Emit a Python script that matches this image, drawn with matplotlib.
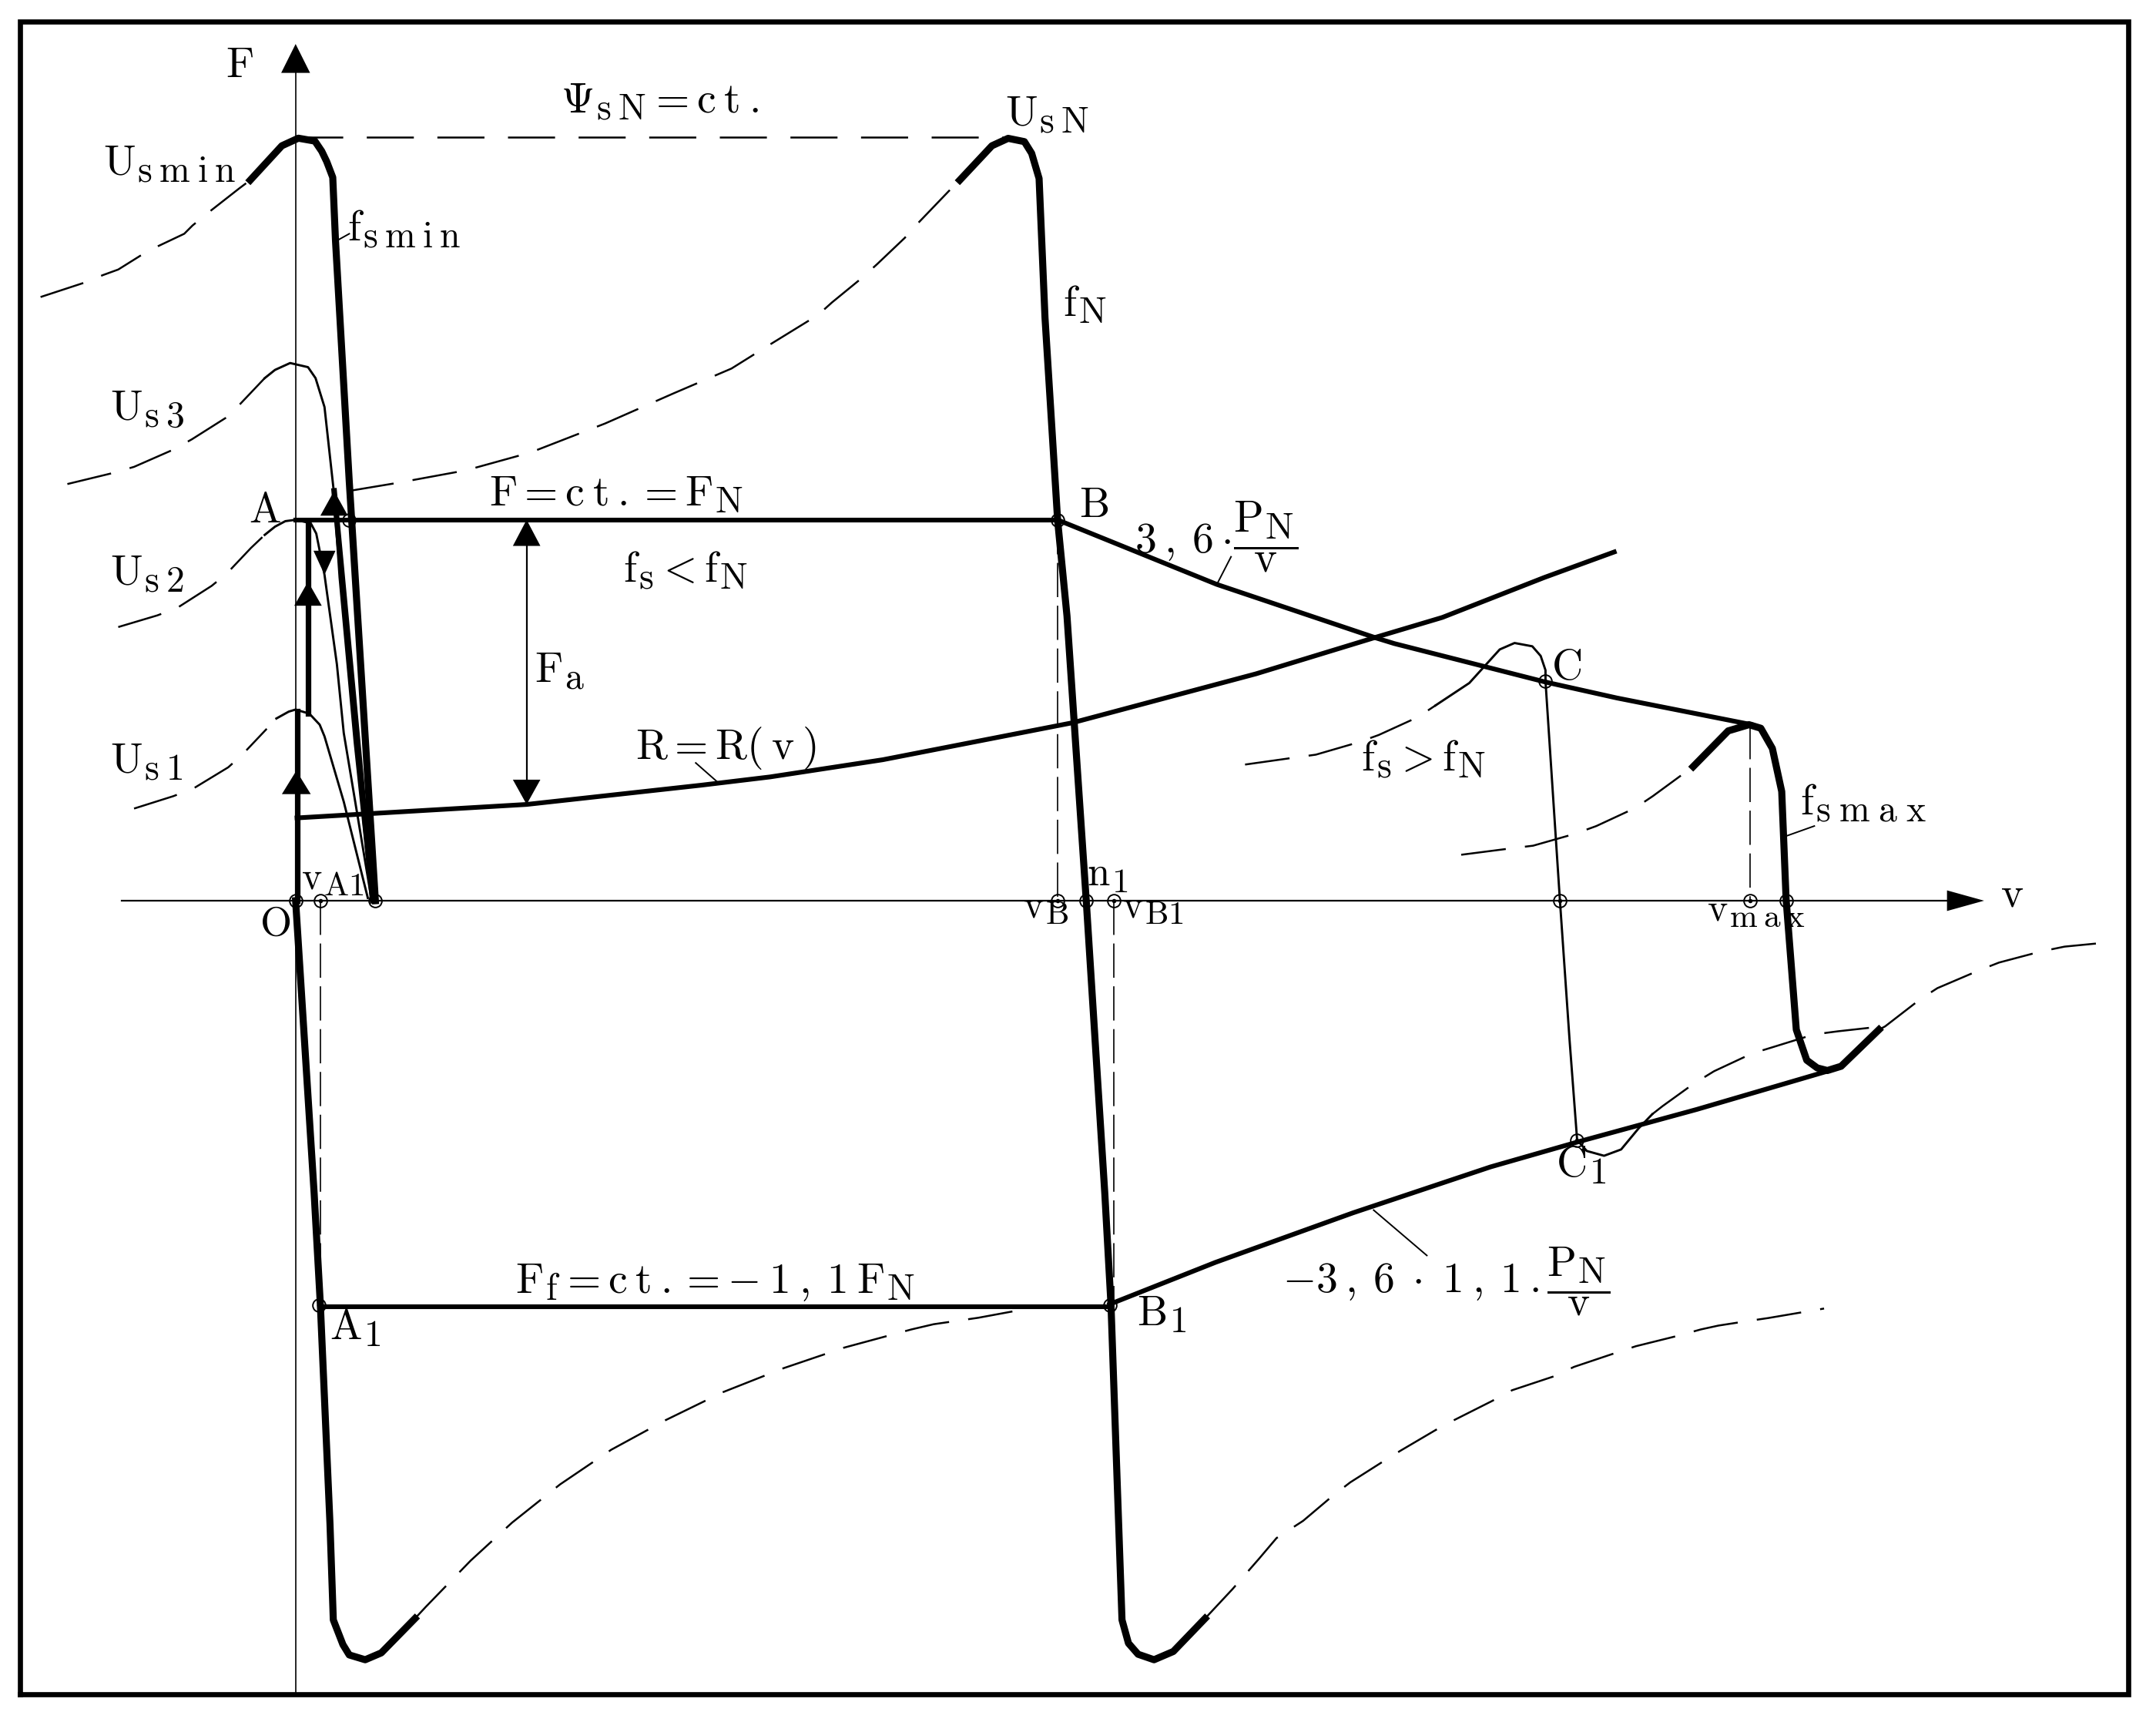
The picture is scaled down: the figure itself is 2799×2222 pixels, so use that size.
import numpy as np
import matplotlib
matplotlib.use("Agg")
import matplotlib.pyplot as plt

try:
    import matplotlib._mathtext as _mt
    _mt.SHRINK_FACTOR = 0.86
except Exception:
    pass

plt.rcParams['mathtext.fontset'] = 'cm'
plt.rcParams['lines.scale_dashes'] = False
plt.rcParams['lines.solid_joinstyle'] = 'round'
plt.rcParams['lines.dash_joinstyle'] = 'round'

# ---------------- data (v = speed units, F = force units) ----------------
psi_v = [0, 518]
psi_F = [555, 555]

usmin_v = [-33, -10, 2, 14, 19, 22.6, 27, 29, 39, 58]          # U_smin peak + f_smin
usmin_F = [524, 549, 554.5, 552.4, 545, 537.5, 526, 480, 305, 0]
usmin_dash_v = [-185.5, -155, -140, -129, -113, -100, -81, -75, -64, -41, -33]
usmin_dash_F = [439, 449, 455, 459, 469, 476, 485, 491, 500, 518, 524]

us3_dash_v = [-166, -133, -117.5, -89, -75.5, -51, -41, -22.5]
us3_dash_F = [303, 311, 315.5, 328, 335.5, 351, 360.5, 380]
us3_v = [-22.5, -15, -4, 9, 14.5, 21, 27.5, 32, 43, 55]
us3_F = [380, 386, 391, 388, 380, 359, 300, 235, 115, 2]

us2_dash_v = [-129, -100.5, -86, -61, -50, -32.5, -22.5]
us2_dash_F = [199, 207.5, 213, 229, 238, 256.5, 266]
us2_v = [-22.5, -15, -7.5, 0, 11, 15, 21, 30, 35, 55]
us2_F = [266, 272, 276, 277, 274.5, 267, 237, 172, 122, 2]

us1_dash_v = [-117.5, -89, -74.5, -49, -39, -21]
us1_dash_F = [67, 76, 81.5, 97, 106, 125]
us1_v = [-14, -5, 0, 10, 17.5, 21, 35, 52.5]
us1_F = [132.5, 137.5, 139, 136, 128, 119.5, 72, 2]

path1_v = [1, 1]
path1_F = [0, 138]
path2_v = [9, 9]
path2_F = [136, 275]
path3_v = [28, 56]
path3_F = [298, 0]

fconst_v = [0, 554]
fconst_F = [277, 277]

fn_v = [483, 506.4, 518.2, 530, 535.3, 540.7, 545, 554.2, 561, 575, 588.5, 593, 601,
        605.7, 612.7, 624.3, 638.3, 661.4]
fn_F = [524, 549, 554.4, 552, 543.5, 525.2, 424, 276.4, 207, 0, -213, -294, -523,
        -540, -548, -552, -546, -522]

usn_dash_v = [39, 75, 124, 171, 225, 275, 317, 341, 354, 380, 390, 412, 423, 443, 451, 475, 483]
usn_dash_F = [298, 304, 313, 326, 347, 369, 387, 402, 410, 426, 435, 453, 463, 482, 491, 516, 524]

low_left_v = [0, 13.5, 18, 25, 27.4, 34.4, 39, 50.6, 62.3, 86.8]
low_left_F = [0, -213.3, -294, -453.5, -523, -541, -548.5, -552, -547, -522]
low_left_dash_v = [86.8, 94.7, 127.3, 157.4, 192.3, 229.5, 269, 310.8, 354.8, 399, 447.8,
                   464, 496.5, 536]
low_left_dash_F = [-522, -513.5, -479.9, -452.3, -424.5, -399.3, -377.8, -357.4, -340,
                   -325, -311.8, -308, -303.3, -296]

low_right_dash_v = [661.4, 681.3, 700.6, 713.4, 732.7, 754, 767, 790.6, 803.5, 829, 842,
                    869.8, 884.7, 914.8, 929.8, 957.5, 974.7, 1006.9, 1021.9, 1034.7,
                    1054, 1071, 1111.6]
low_right_dash_F = [-522, -500.7, -478.6, -463.5, -451, -433, -423, -408, -400, -385, -378,
                    -364, -356, -346, -339, -329.7, -324, -316, -311.8, -309, -306,
                    -303.5, -296.6]

ff_v = [18, 593]
ff_F = [-295, -295]

neg_pv_v = [592, 669, 769, 869, 934, 1019, 1114]
neg_pv_F = [-293.5, -263, -227, -193.6, -175, -151.8, -124]

fsmax_v = [1016.4, 1041.9, 1057, 1065.6, 1074, 1080.8, 1084, 1091.4, 1099, 1106.6, 1114,
           1124, 1151.5]
fsmax_F = [97.5, 123.5, 128, 125.4, 110.7, 79.4, 0.8, -93.8, -116, -121.6, -123.5,
           -120.4, -93.8]
fsmax_dash_l_v = [847.7, 883.5, 900, 930.6, 946, 974, 987, 1011.3, 1016.4]
fsmax_dash_l_F = [33.4, 38, 40, 48.7, 54.3, 67.3, 76, 93.8, 97.5]
fsmax_dash_r_v = [1151.5, 1156, 1181.5, 1194, 1224, 1238.8, 1269, 1286.5, 1321.4]
fsmax_dash_r_F = [-93.8, -91.4, -71.7, -63.6, -50.8, -45, -37, -33.4, -30]

pv_v = [554, 670, 786, 799, 909, 961, 1059]
pv_F = [277, 230, 191, 187, 159, 147.4, 128]

r_v = [1, 168, 295, 345, 427, 565, 698.5, 787, 834, 908, 959]
r_F = [60.2, 70, 84, 90, 102.5, 129.4, 165, 192, 206, 235, 253.6]

c_dash_v = [690.5, 726, 742, 773, 787.7, 816, 829]
c_dash_F = [99, 104, 106.2, 115.2, 120.5, 133.4, 142]
c_v = [829, 853.6, 875.7, 886.5, 899.4, 905.5, 909, 909, 919.5, 926.5, 932, 939, 951.6,
       964, 976.6, 986.6]
c_F = [142, 158.3, 182.7, 187.4, 185, 178, 167.6, 159.5, 0, -101.3, -174, -182, -185.5,
       -180.9, -165.7, -155.3]
c_dash2_v = [986.6, 994, 1016.6, 1031.6, 1059, 1074, 1104, 1121.5, 1154]
c_dash2_F = [-155.3, -149.5, -133.2, -124, -111.2, -106.6, -97.3, -95, -91.4]

# vertical projection lines: (v, F_from, F_to)
proj_v = [554, 18, 595, 1057.8]
proj_F0 = [277, 0, 0, 128]
proj_F1 = [0, -294, -294, 0]

fa_v = 168
fa_F = [277, 70]

mark_v = [0, 18, 58, 554, 575, 595, 919.5, 1057.8, 1084, 39, 554, 909, 932, 592, 17]
mark_F = [0, 0, 0, 0, 0, 0, 0, 0, 0, 277, 277, 159.5, -174, -294, -294]

# arrows: tip v, tip F, direction (dv, dF), length, width
arrows = [
    (0, 623, (0, 1), 21, 21),
    (1228, 0, (1, 0), 27, 15),
    (0.5, 94.5, (0, 1), 17, 21),
    (9, 232, (0, 1), 17.5, 20),
    (21, 237, (0, -1), 17.5, 16),
    (28, 298, (0, 1), 18, 20),
    (168, 277, (0, 1), 19, 20),
    (168, 70, (0, -1), 18, 20),
]

leaders = [((30, 480), (39, 485)),
           ((291, 100.2), (306.9, 86.2)),
           ((680.3, 250.1), (670.7, 231.4)),
           ((784, -225), (822.7, -258)),
           ((1084, 47), (1104.5, 54.3))]

FRAC = r'$\dfrac{\mathrm{P_N}}{\mathrm{v}}$'

# labels: v, F (baseline), text, size
labels = [
    (-51, 599, r'$\mathrm{F}$', 20),
    (-140, 528, r'$\mathrm{U_{s\:m\:i\:n}}$', 20),
    (37.5, 480, r'$\mathrm{f_{s\:m\:i\:n}}$', 20),
    (-135, 349, r'$\mathrm{U_{s\:3}}$', 20),
    (-34, 275, r'$\mathrm{A}$', 20),
    (-135, 230, r'$\mathrm{U_{s\:2}}$', 20),
    (-135, 93, r'$\mathrm{U_{s\:1}}$', 20),
    (4, 8, r'$\mathrm{v_{A1}}$', 18),
    (-26, -25, r'$\mathrm{O}$', 19),
    (192.6, 573, r'$\Psi_{\mathrm{s\:N}}\mathrm{=c\:t\:.}$', 20),
    (516, 564, r'$\mathrm{U_{s\:N}}$', 20),
    (558, 425.3, r'$\mathrm{f_N}$', 20),
    (570, 279, r'$\mathrm{B}$', 20),
    (610, 253, r'$\mathrm{3\:,\:6}\cdot$', 20),
    (682, 251, FRAC, 20.5),
    (140.5, 287.5, r'$\mathrm{F=c\:t\:.=F_N}$', 20),
    (238, 232, r'$\mathrm{f_s<f_N}$', 20),
    (174, 159, r'$\mathrm{F_a}$', 20),
    (247, 103, r'$\mathrm{R=R(\:v\:)}$', 20),
    (913, 161, r'$\mathrm{C}$', 20),
    (775, 95, r'$\mathrm{f_s>f_N}$', 20),
    (1094, 63, r'$\mathrm{f_{s\;m\;a\;x}}$', 20),
    (1240, -4, r'$\mathrm{v}$', 20),
    (1026.5, -14, r'$\mathrm{v_{m\:a\:x}}$', 18),
    (529, -12.7, r'$\mathrm{v_B}$', 18),
    (575.5, 11, r'$\mathrm{n_1}$', 19),
    (601, -12.7, r'$\mathrm{v_{B1}}$', 18),
    (612, -308.7, r'$\mathrm{B_1}$', 20),
    (25, -319, r'$\mathrm{A_1}$', 20),
    (916.6, -200.6, r'$\mathrm{C_1}$', 20),
    (160, -285.4, r'$\mathrm{F_f=c\:t\:.=-\:1\:,\:1\:F_N}$', 20),
    (717.7, -284.8, r'$-\mathrm{3\:,\:6}\;\cdot\;\mathrm{1\:,\:1\:.}$', 20),
    (910, -290, FRAC, 20),
]

frame_v = [-200.5, 1333]
frame_F = [-577, 639.5]

# ---------------- drawing ----------------
fig = plt.figure(figsize=(13.995, 11.11), dpi=200)
ax = fig.add_axes([0, 0, 1, 1])
ax.set_xlim(-215, 1353)
ax.set_ylim(-590, 655)
ax.axis('off')

K = 'black'
THICK, MED, THIN, DASHW, AXW = 3.3, 2.2, 1.05, 0.9, 0.6
CDASH = (0, (21, 9))
PDASH = (0, (16, 4))
PSIDASH = (0, (22, 11))

# frame
ax.plot([frame_v[0], frame_v[1], frame_v[1], frame_v[0], frame_v[0]],
        [frame_F[0], frame_F[0], frame_F[1], frame_F[1], frame_F[0]],
        color=K, lw=2.4, solid_joinstyle='miter', clip_on=False)

# axes
ax.plot([0, 0], [frame_F[0], 605], color=K, lw=AXW)
ax.plot([-126.5, 1205], [0, 0], color=K, lw=0.8)

# dashed curves
ax.plot(psi_v, psi_F, color=K, lw=DASHW, linestyle=PSIDASH)
for xv, yv in [(usmin_dash_v, usmin_dash_F), (us3_dash_v, us3_dash_F),
               (us2_dash_v, us2_dash_F), (us1_dash_v, us1_dash_F),
               (usn_dash_v, usn_dash_F), (low_left_dash_v, low_left_dash_F),
               (low_right_dash_v, low_right_dash_F), (fsmax_dash_l_v, fsmax_dash_l_F),
               (fsmax_dash_r_v, fsmax_dash_r_F), (c_dash_v, c_dash_F),
               (c_dash2_v, c_dash2_F)]:
    ax.plot(xv, yv, color=K, lw=DASHW, linestyle=CDASH)

for pv, f0, f1 in zip(proj_v, proj_F0, proj_F1):
    ax.plot([pv, pv], [f0, f1], color=K, lw=0.6, linestyle=PDASH)

# thin solid curves
for xv, yv in [(us3_v, us3_F), (us2_v, us2_F), (us1_v, us1_F), (c_v, c_F)]:
    ax.plot(xv, yv, color=K, lw=THIN)
ax.plot([fa_v, fa_v], fa_F, color=K, lw=0.8)

# medium curves
for xv, yv in [(fconst_v, fconst_F), (ff_v, ff_F), (pv_v, pv_F), (neg_pv_v, neg_pv_F),
               (r_v, r_F)]:
    ax.plot(xv, yv, color=K, lw=MED)

# thick curves
for xv, yv in [(usmin_v, usmin_F), (fn_v, fn_F), (low_left_v, low_left_F),
               (fsmax_v, fsmax_F)]:
    ax.plot(xv, yv, color=K, lw=THICK)
for xv, yv in [(path1_v, path1_F), (path2_v, path2_F), (path3_v, path3_F)]:
    ax.plot(xv, yv, color=K, lw=2.6)

# leaders
for (a, b) in leaders:
    ax.plot([a[0], b[0]], [a[1], b[1]], color=K, lw=0.7)

# arrowheads
for tv, tF, d, L, W in arrows:
    d = np.array(d, float)
    n = np.array([-d[1], d[0]])
    tip = np.array([tv, tF], float)
    base = tip - d * L
    pts = np.array([tip, base + n * W / 2, base - n * W / 2])
    ax.fill(pts[:, 0], pts[:, 1], color=K, lw=0, zorder=5)

# point markers
ax.plot(mark_v, mark_F, 'o', ms=6.0, mfc='none', mec=K, mew=0.7, zorder=6)
ax.plot(mark_v, mark_F, '.', ms=2.0, color=K, zorder=6)

# labels
for lv, lF, s, fs in labels:
    ax.text(lv, lF, s, fontsize=fs, ha='left', va='baseline', color=K)

fig.savefig('out.png', dpi=200)
